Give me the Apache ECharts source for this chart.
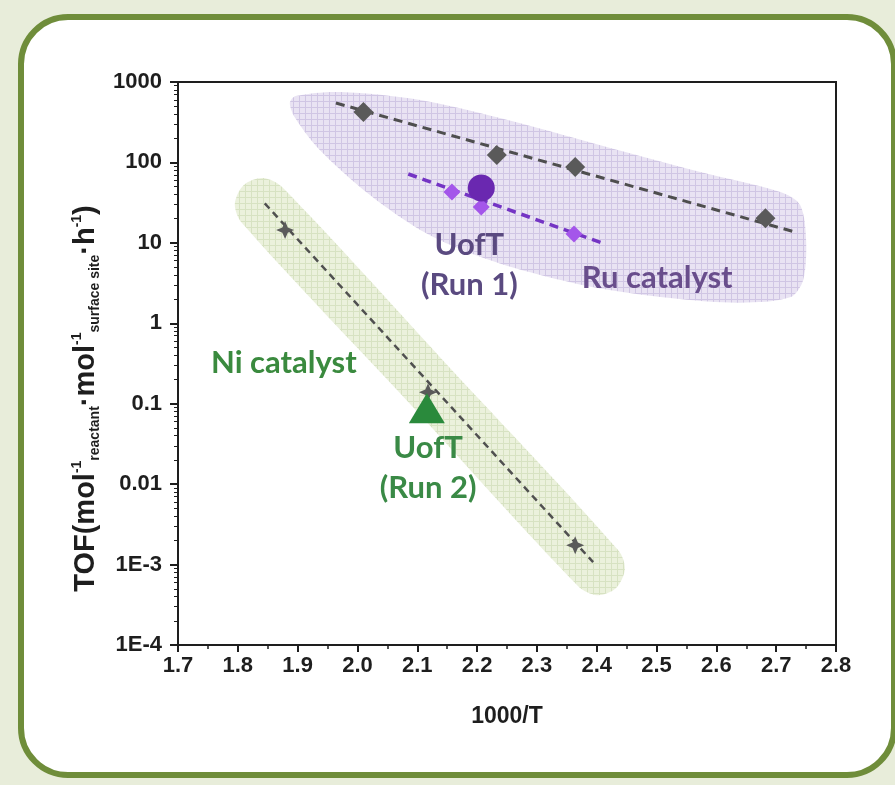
<!DOCTYPE html>
<html>
<head>
<meta charset="utf-8">
<script src="https://cdn.jsdelivr.net/npm/echarts@6.0.0/dist/echarts.min.js"></script>
<style>
  html, body { margin: 0; padding: 0; background: #e8edda; }
  #frame {
    position: absolute; left: 18px; top: 14px; width: 867px; height: 752px;
    border: 6px solid #6f8d3a; border-radius: 50px; background: #fff;
  }
  #chart { position: absolute; left: 0; top: 0; width: 895px; height: 785px; }
</style>
</head>
<body>
<div id="frame"></div>
<div id="chart"></div>
<script>
// Ru catalyst (literature points + fit)
const ruX = [2.01, 2.233, 2.364, 2.682];
const ruY = [424, 124, 88, 20.3];
const ruFitX = [1.964, 2.732];
const ruFitY = [548, 13.6];

// UofT Run 1 (Ru)
const run1X = [2.158, 2.207, 2.362];
const run1Y = [42.8, 27.9, 12.9];
const run1FitX = [2.085, 2.414];
const run1FitY = [71.8, 9.66];
const run1BigX = [2.207];
const run1BigY = [48];

// Ni catalyst (literature points + fit)
const niX = [1.879, 2.118, 2.364];
const niY = [14.4, 0.139, 0.00174];
const niFitX = [1.845, 2.394];
const niFitY = [31, 0.00107];

// UofT Run 2 (Ni)
const run2X = [2.116];
const run2Y = [0.088];

// shaded regions, outlines in data units [1000/T, TOF]
const ruRegion = [
  [1.897, 670], [1.971, 751], [2.105, 597], [2.238, 356], [2.406, 164], [2.573, 76],
  [2.707, 42.8], [2.740, 29.5], [2.750, 10.8], [2.745, 3.44], [2.723, 2.1], [2.640, 1.8],
  [2.539, 2.0], [2.406, 2.7], [2.289, 4.3], [2.188, 7.5], [2.105, 14.5], [2.021, 39.3],
  [1.937, 143], [1.896, 356], [1.887, 548]
];
const niRegion = [
  [1.807, 17.6], [1.795, 30.4], [1.810, 52.4], [1.842, 64], [1.874, 49.4], [2.155, 0.277],
  [2.436, 0.00151], [2.447, 0.000877], [2.432, 0.000508], [2.401, 0.000416], [2.369, 0.000538],
  [2.088, 0.0989]
];

// text annotations
const noteText = ['UofT\n(Run 1)', 'Ru catalyst', 'Ni catalyst', 'UofT\n(Run 2)'];
const noteX = [2.187, 2.501, 1.877, 2.118];
const noteY = [5.3, 3.65, 0.32, 0.0158];
const noteColor = ['#5a4a80', '#694e8c', '#3a8a3e', '#3a8a46'];

const yTickLabels = ['1E-4', '1E-3', '0.01', '0.1', '1', '10', '100', '1000'];

function gridPattern(bg, line) {
  const c = document.createElement('canvas');
  c.width = 6; c.height = 6;
  const ctx = c.getContext('2d');
  ctx.fillStyle = bg; ctx.fillRect(0, 0, 6, 6);
  ctx.fillStyle = line;
  ctx.fillRect(5, 0, 1, 6);
  ctx.fillRect(0, 5, 6, 1);
  return { image: c, repeat: 'repeat' };
}

function regionSeries(outline, fill) {
  return {
    type: 'custom',
    silent: true,
    z: 1,
    data: [[2, 1]],
    renderItem: function (params, api) {
      return {
        type: 'polygon',
        shape: { points: outline.map(p => api.coord(p)), smooth: 0.3 },
        style: { fill: fill, stroke: null }
      };
    }
  };
}

const pair = (xs, ys) => xs.map((x, i) => [x, ys[i]]);

const axisFont = { fontFamily: 'Liberation Sans', fontWeight: 'bold', color: '#1e1e1e' };
const subStyle = { fontFamily: 'Liberation Sans', fontWeight: 'bold', color: '#1e1e1e', lineHeight: 16 };

const chart = echarts.init(document.getElementById('chart'));
chart.setOption({
  backgroundColor: 'transparent',
  animation: false,
  grid: {
    left: 178, top: 82, right: 59, bottom: 140,
    show: true, borderColor: '#1e1e1e', borderWidth: 2, backgroundColor: '#fff'
  },
  xAxis: {
    type: 'value', min: 1.7, max: 2.8, interval: 0.1,
    name: '1000/T', nameLocation: 'middle', nameGap: 60,
    nameTextStyle: Object.assign({ fontSize: 23 }, axisFont),
    axisLine: { lineStyle: { color: '#1e1e1e', width: 2 } },
    axisTick: { show: true, length: 7, lineStyle: { color: '#1e1e1e', width: 2 } },
    minorTick: { show: true, splitNumber: 2, length: 4, lineStyle: { color: '#1e1e1e', width: 1.5 } },
    splitLine: { show: false },
    axisLabel: Object.assign({ fontSize: 22, margin: 10, formatter: v => v.toFixed(1) }, axisFont)
  },
  yAxis: {
    type: 'log', logBase: 10, min: 1e-4, max: 1000,
    name: 'TOF(mol{sup|-1}{sub|reactant}·mol{sup|-1}{sub|surface site}·h{sup|-1})',
    nameLocation: 'middle', nameGap: 66, nameRotate: 90,
    nameTextStyle: Object.assign({
      fontSize: 29, lineHeight: 32, padding: [0, 70, 0, 0],
      rich: {
        sub: Object.assign({ fontSize: 14, verticalAlign: 'bottom' }, subStyle),
        sup: Object.assign({ fontSize: 14, verticalAlign: 'top' }, subStyle)
      }
    }, axisFont),
    axisLine: { lineStyle: { color: '#1e1e1e', width: 2 } },
    axisTick: { show: true, length: 8, lineStyle: { color: '#1e1e1e', width: 2 } },
    minorTick: { show: true, splitNumber: 9, length: 4, lineStyle: { color: '#1e1e1e', width: 1 } },
    splitLine: { show: false },
    axisLabel: Object.assign({
      fontSize: 22, margin: 16,
      formatter: v => yTickLabels[Math.round(Math.log10(v)) + 4]
    }, axisFont)
  },
  series: [
    regionSeries(ruRegion, gridPattern('#e9e3f3', '#d0c6e4')),
    regionSeries(niRegion, gridPattern('#ebf1dc', '#d7e2c2')),
    {
      type: 'line', data: pair(ruFitX, ruFitY), symbol: 'none', z: 2,
      lineStyle: { color: '#4e4e4e', width: 3, type: [9, 6] }
    },
    {
      type: 'line', data: pair(run1FitX, run1FitY), symbol: 'none', z: 2,
      lineStyle: { color: '#7434c4', width: 3.5, type: [9, 6] }
    },
    {
      type: 'line', data: pair(niFitX, niFitY), symbol: 'none', z: 2,
      lineStyle: { color: '#505050', width: 2.5, type: [7, 5] }
    },
    {
      type: 'scatter', data: pair(ruX, ruY), symbol: 'diamond', symbolSize: 20, z: 3,
      itemStyle: { color: '#5a5a5a', opacity: 1 }
    },
    {
      type: 'scatter', data: pair(niX, niY), z: 3,
      symbol: 'path://M0,-10L3,-3L10,0L3,3L0,10L-3,3L-10,0L-3,-3Z', symbolSize: 18,
      itemStyle: { color: '#5a5a5a', opacity: 1 }
    },
    {
      type: 'scatter', data: pair(run1X, run1Y), symbol: 'diamond', symbolSize: 17, z: 3,
      itemStyle: { color: '#a456ea', opacity: 1 }
    },
    {
      type: 'scatter', data: pair(run1BigX, run1BigY), symbol: 'circle', symbolSize: 27, z: 4,
      itemStyle: { color: '#6a28b0', opacity: 1 }
    },
    {
      type: 'scatter', data: pair(run2X, run2Y), symbol: 'triangle', symbolSize: [36, 30], z: 4,
      itemStyle: { color: '#2a8a3c', opacity: 1 }
    },
    {
      type: 'scatter', symbolSize: 0, z: 5, silent: true,
      itemStyle: { opacity: 1 },
      data: noteText.map((t, i) => ({
        name: t, value: [noteX[i], noteY[i]],
        label: {
          show: true, position: 'inside', formatter: '{b}', align: 'center',
          fontFamily: 'Lato', fontWeight: 'bold', fontSize: 31, lineHeight: 40,
          color: noteColor[i]
        }
      }))
    }
  ]
});
</script>
</body>
</html>
